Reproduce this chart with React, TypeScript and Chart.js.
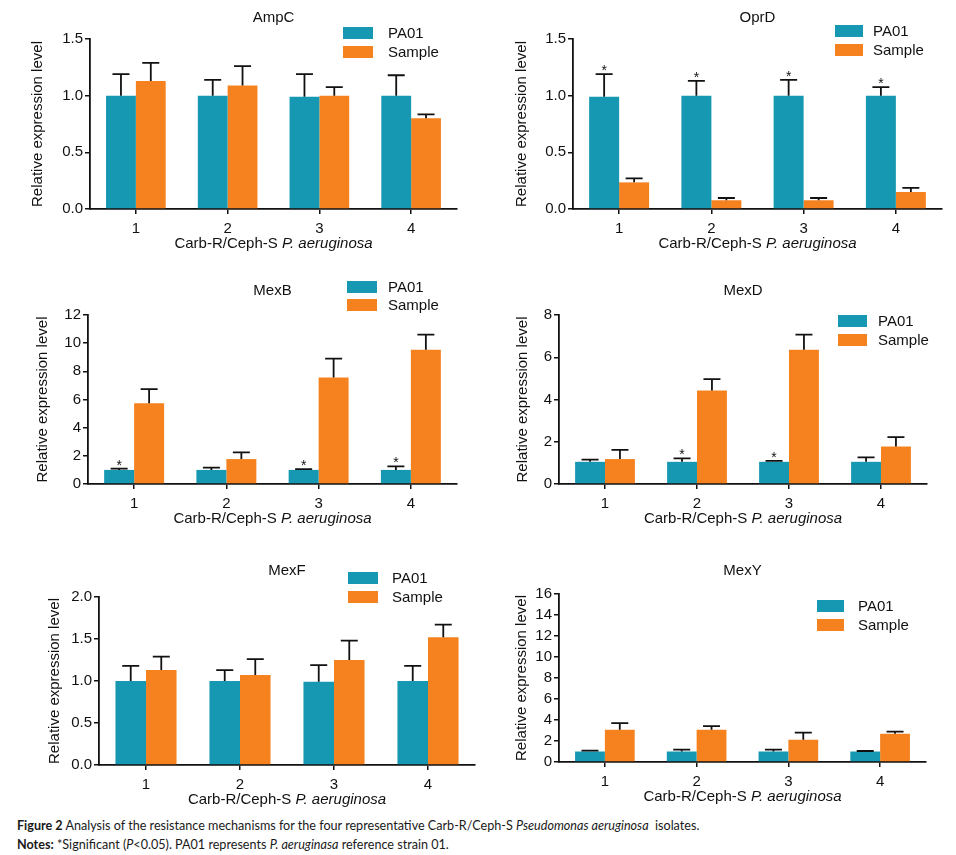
import React, { useEffect, useRef } from "react";
import { Chart, registerables } from "chart.js";

Chart.register(...registerables);

const FONT = "'Liberation Sans', Arial, sans-serif";
const TEAL = "#1798b2";
const ORANGE = "#f5821f";
const INK = "#111111";

const categories = ["1", "2", "3", "4"];
const seriesNames = ["PA01", "Sample"];
const xTitleRoman = "Carb-R/Ceph-S ";
const xTitleItalic = "P. aeruginosa";
const yTitle = "Relative expression level";

// AmpC
const ampcPA01 = [1.0, 1.0, 0.99, 1.0];
const ampcPA01Sd = [0.19, 0.14, 0.2, 0.18];
const ampcSample = [1.13, 1.09, 1.0, 0.8];
const ampcSampleSd = [0.16, 0.17, 0.075, 0.035];
const ampcSig = ["", "", "", ""];

// OprD
const oprdPA01 = [0.99, 1.0, 1.0, 1.0];
const oprdPA01Sd = [0.2, 0.13, 0.14, 0.075];
const oprdSample = [0.235, 0.077, 0.077, 0.15];
const oprdSampleSd = [0.036, 0.02, 0.02, 0.036];
const oprdSig = ["*", "*", "*", "*"];

// MexB
const mexbPA01 = [1.0, 1.0, 1.0, 1.0];
const mexbPA01Sd = [0.09, 0.16, 0.06, 0.25];
const mexbSample = [5.74, 1.77, 7.56, 9.54];
const mexbSampleSd = [0.99, 0.47, 1.34, 1.07];
const mexbSig = ["*", "", "*", "*"];

// MexD
const mexdPA01 = [1.05, 1.05, 1.05, 1.05];
const mexdPA01Sd = [0.1, 0.16, 0.04, 0.21];
const mexdSample = [1.18, 4.43, 6.36, 1.78];
const mexdSampleSd = [0.44, 0.53, 0.71, 0.44];
const mexdSig = ["", "*", "*", ""];

// MexF
const mexfPA01 = [1.0, 1.0, 0.99, 1.0];
const mexfPA01Sd = [0.18, 0.13, 0.2, 0.18];
const mexfSample = [1.13, 1.07, 1.25, 1.52];
const mexfSampleSd = [0.16, 0.19, 0.23, 0.15];
const mexfSig = ["", "", "", ""];

// MexY
const mexyPA01 = [1.0, 1.0, 1.0, 1.0];
const mexyPA01Sd = [0.08, 0.17, 0.17, 0.05];
const mexySample = [3.07, 3.07, 2.12, 2.69];
const mexySampleSd = [0.63, 0.35, 0.67, 0.21];
const mexySig = ["", "", "", ""];

type Panel = {
  title: string;
  pa01: number[];
  pa01Sd: number[];
  sample: number[];
  sampleSd: number[];
  sig: string[];
  yMax: number;
  yStep: number;
  decimals: number;
  // layout in page coordinates
  canvas: { x: number; y: number; w: number; h: number };
  area: { l: number; t: number; r: number; b: number };
  yW: number;
  titleY: number;
  legend: { x: number; w: number; y1: number; y2: number; tx: number };
};

const panels: Panel[] = [
  {
    title: "AmpC", pa01: ampcPA01, pa01Sd: ampcPA01Sd, sample: ampcSample, sampleSd: ampcSampleSd, sig: ampcSig,
    yMax: 1.5, yStep: 0.5, decimals: 1,
    canvas: { x: 0, y: 0, w: 478, h: 262 }, area: { l: 90, t: 39, r: 457, b: 209 }, yW: 61, titleY: 18,
    legend: { x: 343, w: 30, y1: 33, y2: 52, tx: 388 },
  },
  {
    title: "OprD", pa01: oprdPA01, pa01Sd: oprdPA01Sd, sample: oprdSample, sampleSd: oprdSampleSd, sig: oprdSig,
    yMax: 1.5, yStep: 0.5, decimals: 1,
    canvas: { x: 478, y: 0, w: 478, h: 262 }, area: { l: 573, t: 39, r: 942, b: 209 }, yW: 60, titleY: 18,
    legend: { x: 835, w: 28, y1: 31, y2: 50, tx: 873 },
  },
  {
    title: "MexB", pa01: mexbPA01, pa01Sd: mexbPA01Sd, sample: mexbSample, sampleSd: mexbSampleSd, sig: mexbSig,
    yMax: 12, yStep: 2, decimals: 0,
    canvas: { x: 0, y: 262, w: 478, h: 283 }, area: { l: 88, t: 315, r: 457, b: 484 }, yW: 54, titleY: 291,
    legend: { x: 347, w: 30, y1: 287, y2: 305, tx: 388 },
  },
  {
    title: "MexD", pa01: mexdPA01, pa01Sd: mexdPA01Sd, sample: mexdSample, sampleSd: mexdSampleSd, sig: mexdSig,
    yMax: 8, yStep: 2, decimals: 0,
    canvas: { x: 478, y: 262, w: 478, h: 283 }, area: { l: 559, t: 315, r: 927, b: 484 }, yW: 45, titleY: 291,
    legend: { x: 838, w: 29, y1: 321, y2: 340, tx: 878 },
  },
  {
    title: "MexF", pa01: mexfPA01, pa01Sd: mexfPA01Sd, sample: mexfSample, sampleSd: mexfSampleSd, sig: mexfSig,
    yMax: 2, yStep: 0.5, decimals: 1,
    canvas: { x: 0, y: 545, w: 478, h: 265 }, area: { l: 99, t: 597, r: 475, b: 765 }, yW: 53, titleY: 571,
    legend: { x: 348, w: 30, y1: 578, y2: 597, tx: 392 },
  },
  {
    title: "MexY", pa01: mexyPA01, pa01Sd: mexyPA01Sd, sample: mexySample, sampleSd: mexySampleSd, sig: mexySig,
    yMax: 16, yStep: 2, decimals: 0,
    canvas: { x: 478, y: 545, w: 478, h: 265 }, area: { l: 559, t: 594, r: 926, b: 762 }, yW: 46, titleY: 571,
    legend: { x: 817, w: 27, y1: 606, y2: 625, tx: 858 },
  },
];

const X_AXIS_H = 43;

const decorPlugin = {
  id: "decor",
  afterDatasetsDraw(chart: any) {
    const ctx = chart.ctx as CanvasRenderingContext2D;
    const yScale = chart.scales.y;
    chart.data.datasets.forEach((ds: any, di: number) => {
      const meta = chart.getDatasetMeta(di);
      meta.data.forEach((bar: any, i: number) => {
        const v = ds.data[i] as number;
        const sd = (ds.errors as number[])[i];
        const yBase = yScale.getPixelForValue(v);
        const yTop = yScale.getPixelForValue(v + sd);
        ctx.save();
        ctx.strokeStyle = INK;
        ctx.lineWidth = 1.8;
        ctx.beginPath();
        ctx.moveTo(bar.x, yBase);
        ctx.lineTo(bar.x, yTop);
        ctx.moveTo(bar.x - 8.5, yTop);
        ctx.lineTo(bar.x + 8.5, yTop);
        ctx.stroke();
        const s = ds.sig ? ds.sig[i] : "";
        if (s) {
          ctx.fillStyle = INK;
          ctx.font = `14px ${FONT}`;
          ctx.textAlign = "center";
          ctx.textBaseline = "alphabetic";
          ctx.fillText(s, bar.x, yTop + 1);
        }
        ctx.restore();
      });
    });
  },
  afterDraw(chart: any, _args: any, opts: any) {
    const ctx = chart.ctx as CanvasRenderingContext2D;
    const ca = chart.chartArea;
    const cx = (ca.left + ca.right) / 2;
    ctx.save();
    ctx.fillStyle = INK;
    // panel title
    ctx.font = `15px ${FONT}`;
    ctx.textAlign = "center";
    ctx.textBaseline = "middle";
    ctx.fillText(opts.title, cx, opts.titleY);
    // x axis title with italic species name
    const roman = `15px ${FONT}`;
    const ital = `italic 15px ${FONT}`;
    ctx.font = roman;
    const w1 = ctx.measureText(xTitleRoman).width;
    ctx.font = ital;
    const w2 = ctx.measureText(xTitleItalic).width;
    const startX = cx - (w1 + w2) / 2;
    const ty = ca.bottom + 35;
    ctx.textAlign = "left";
    ctx.font = roman;
    ctx.fillText(xTitleRoman, startX, ty);
    ctx.font = ital;
    ctx.fillText(xTitleItalic, startX + w1, ty);
    // legend
    const lg = opts.legend;
    ctx.font = `15px ${FONT}`;
    chart.data.datasets.forEach((ds: any, di: number) => {
      const yc = di === 0 ? lg.y1 : lg.y2;
      ctx.fillStyle = ds.backgroundColor;
      ctx.fillRect(lg.x, yc - 6, lg.w, 12);
      ctx.fillStyle = INK;
      ctx.fillText(ds.label, lg.tx, yc + 1);
    });
    ctx.restore();
  },
};

function PanelChart({ p }: { p: Panel }) {
  const ref = useRef<HTMLCanvasElement | null>(null);
  useEffect(() => {
    if (!ref.current) return;
    const { canvas, area } = p;
    const padding = {
      left: area.l - canvas.x - p.yW,
      top: area.t - canvas.y,
      right: canvas.x + canvas.w - area.r,
      bottom: canvas.y + canvas.h - area.b - X_AXIS_H,
    };
    const chart = new Chart(ref.current, {
      type: "bar",
      data: {
        labels: categories,
        datasets: [
          {
            label: seriesNames[0],
            data: p.pa01,
            backgroundColor: TEAL,
            borderWidth: 0,
            categoryPercentage: 0.65,
            barPercentage: 1.0,
            errors: p.pa01Sd,
            sig: p.sig,
          } as any,
          {
            label: seriesNames[1],
            data: p.sample,
            backgroundColor: ORANGE,
            borderWidth: 0,
            categoryPercentage: 0.65,
            barPercentage: 1.0,
            errors: p.sampleSd,
          } as any,
        ],
      },
      options: {
        animation: false,
        responsive: true,
        maintainAspectRatio: false,
        layout: { padding },
        font: { family: FONT },
        plugins: {
          legend: { display: false },
          title: { display: false },
          tooltip: { enabled: false },
          decor: {
            title: p.title,
            titleY: p.titleY - canvas.y,
            legend: {
              x: p.legend.x - canvas.x,
              w: p.legend.w,
              y1: p.legend.y1 - canvas.y,
              y2: p.legend.y2 - canvas.y,
              tx: p.legend.tx - canvas.x,
            },
          },
        } as any,
        scales: {
          x: {
            offset: true,
            grid: {
              display: true,
              offset: false,
              drawOnChartArea: false,
              drawTicks: true,
              tickLength: 5,
              color: INK,
              lineWidth: 1.5,
            },
            border: { display: true, color: INK, width: 1.8 },
            ticks: { color: INK, font: { family: FONT, size: 15 }, padding: 6, maxRotation: 0 },
            afterFit: (s: any) => {
              s.height = X_AXIS_H;
            },
          },
          y: {
            min: 0,
            max: p.yMax,
            grid: {
              display: true,
              drawOnChartArea: false,
              drawTicks: true,
              tickLength: 5,
              color: INK,
              lineWidth: 1.5,
            },
            border: { display: true, color: INK, width: 1.8 },
            ticks: {
              stepSize: p.yStep,
              color: INK,
              font: { family: FONT, size: 15 },
              padding: 2,
              callback: (v: any) => Number(v).toFixed(p.decimals),
            },
            title: {
              display: true,
              text: yTitle,
              color: INK,
              font: { family: FONT, size: 15 },
              padding: { top: 0, bottom: 0 },
            },
            afterFit: (s: any) => {
              s.width = p.yW;
            },
          },
        },
      } as any,
      plugins: [decorPlugin as any],
    });
    return () => chart.destroy();
  }, [p]);
  return (
    <div
      style={{
        position: "absolute",
        left: p.canvas.x,
        top: p.canvas.y,
        width: p.canvas.w,
        height: p.canvas.h,
      }}
    >
      <canvas ref={ref} />
    </div>
  );
}

export default function App() {
  return (
    <div
      style={{
        position: "absolute",
        left: 0,
        top: 0,
        width: 956,
        height: 855,
        background: "#ffffff",
        overflow: "hidden",
      }}
    >
      {panels.map((p) => (
        <PanelChart key={p.title} p={p} />
      ))}
      <div
        style={{
          position: "absolute",
          left: 17,
          top: 816,
          fontFamily: "Lato, 'Open Sans', sans-serif",
          fontSize: 12.6,
          lineHeight: "19px",
          color: "#1a1a1a",
          whiteSpace: "nowrap",
        }}
      >
        <div>
          <b>Figure 2</b> Analysis of the resistance mechanisms for the four representative Carb-R/Ceph-S{" "}
          <i>Pseudomonas aeruginosa</i>&nbsp; isolates.
        </div>
        <div>
          <b>Notes:</b> *Significant (<i>P</i>&lt;0.05). PA01 represents <i>P. aeruginasa</i> reference strain 01.
        </div>
      </div>
    </div>
  );
}
